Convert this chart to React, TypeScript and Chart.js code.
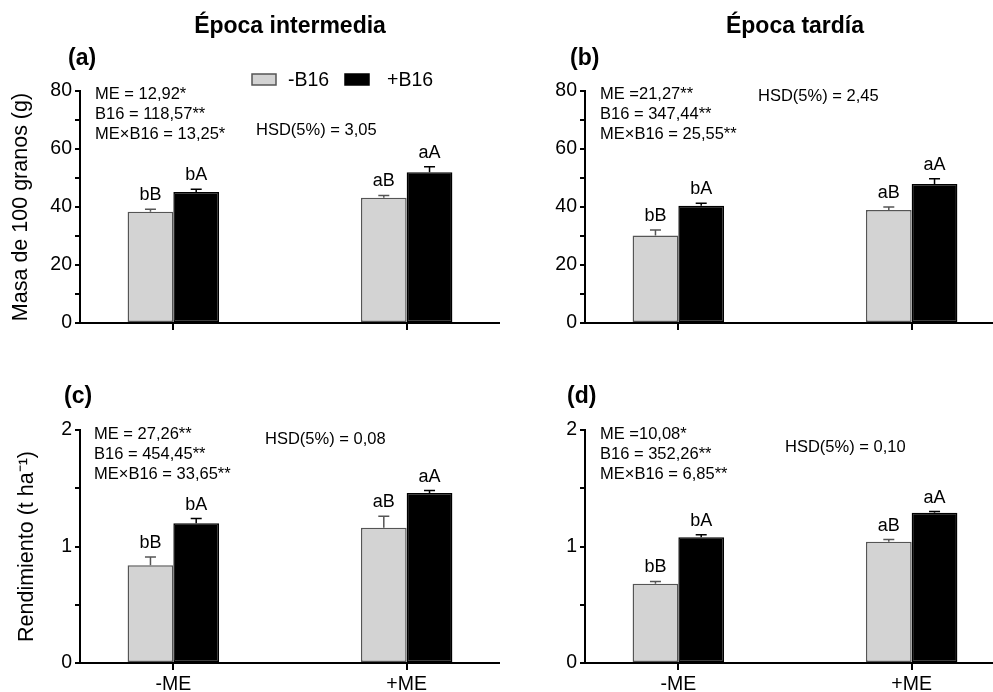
import { useEffect, useRef } from "react";
import { Chart, registerables } from "chart.js";

Chart.register(...registerables);

const FONT = "'Liberation Sans', Arial, Helvetica, sans-serif";

// ---------- data ----------
const categories = ["-ME", "+ME"];
const seriesNames = ["-B16", "+B16"];
const seriesColors = ["#d3d3d3", "#000000"];
const seriesBorders = ["#555555", "#000000"];

// (a) Masa de 100 granos (g) – Época intermedia
const massIntMinusB16 = [38.4, 43.2];
const massIntMinusB16Err = [0.8, 0.8];
const massIntPlusB16 = [45.2, 52.0];
const massIntPlusB16Err = [0.9, 1.9];

// (b) Masa de 100 granos (g) – Época tardía
const massLateMinusB16 = [30.2, 39.0];
const massLateMinusB16Err = [1.9, 1.0];
const massLatePlusB16 = [40.4, 47.9];
const massLatePlusB16Err = [0.9, 1.8];

// (c) Rendimiento (t ha-1) – Época intermedia
const yieldIntMinusB16 = [0.84, 1.16];
const yieldIntMinusB16Err = [0.07, 0.1];
const yieldIntPlusB16 = [1.2, 1.46];
const yieldIntPlusB16Err = [0.04, 0.02];

// (d) Rendimiento (t ha-1) – Época tardía
const yieldLateMinusB16 = [0.68, 1.04];
const yieldLateMinusB16Err = [0.02, 0.02];
const yieldLatePlusB16 = [1.08, 1.29];
const yieldLatePlusB16Err = [0.02, 0.01];

const lettersMinusB16 = ["bB", "aB"];
const lettersPlusB16 = ["bA", "aA"];

const massTickLabels = [0, 20, 40, 60, 80];
const yieldTickLabels = [0, 1, 2];

const statsA = ["ME = 12,92*", "B16 = 118,57**", "ME×B16 = 13,25*"];
const statsB = ["ME =21,27**", "B16 = 347,44**", "ME×B16 = 25,55**"];
const statsC = ["ME = 27,26**", "B16 = 454,45**", "ME×B16 = 33,65**"];
const statsD = ["ME =10,08*", "B16 = 352,26**", "ME×B16 = 6,85**"];
const hsdA = "HSD(5%) = 3,05";
const hsdB = "HSD(5%) = 2,45";
const hsdC = "HSD(5%) = 0,08";
const hsdD = "HSD(5%) = 0,10";

// ---------- plugins ----------
const errorBarsPlugin = {
  id: "errorBars",
  afterDatasetsDraw(chart: any) {
    const { ctx } = chart;
    const yScale = chart.scales.y;
    chart.data.datasets.forEach((ds: any, di: number) => {
      const meta = chart.getDatasetMeta(di);
      meta.data.forEach((el: any, i: number) => {
        const v = ds.data[i].y;
        const e = ds.errors[i];
        const yTop = yScale.getPixelForValue(v + e);
        ctx.save();
        ctx.strokeStyle = ds.errorColor;
        ctx.lineWidth = 1.5;
        ctx.beginPath();
        ctx.moveTo(el.x, el.y);
        ctx.lineTo(el.x, yTop);
        ctx.moveTo(el.x - 5.5, yTop);
        ctx.lineTo(el.x + 5.5, yTop);
        ctx.stroke();
        ctx.fillStyle = "#000";
        ctx.font = `18px ${FONT}`;
        ctx.textAlign = "center";
        ctx.textBaseline = "alphabetic";
        ctx.fillText(ds.letters[i], el.x, yTop - 9);
        ctx.restore();
      });
    });
  },
};

const annotationsPlugin = {
  id: "annotations",
  afterDraw(chart: any, _args: any, opts: any) {
    const { ctx } = chart;
    ctx.save();
    (opts.items || []).forEach((it: any) => {
      ctx.font = `${it.bold ? "bold " : ""}${it.size}px ${FONT}`;
      ctx.fillStyle = "#000";
      ctx.textAlign = it.align || "left";
      ctx.textBaseline = "alphabetic";
      ctx.fillText(it.t, it.x, it.y);
    });
    if (opts.legend) {
      const L = opts.legend;
      seriesNames.forEach((name, i) => {
        const bx = L.boxes[i];
        ctx.fillStyle = seriesColors[i];
        ctx.fillRect(bx, L.y, L.w, L.h);
        ctx.strokeStyle = seriesBorders[i];
        ctx.lineWidth = 1.5;
        ctx.strokeRect(bx, L.y, L.w, L.h);
        ctx.fillStyle = "#000";
        ctx.font = `${L.size}px ${FONT}`;
        ctx.textAlign = "left";
        ctx.fillText(name, L.texts[i], L.baseline);
      });
    }
    ctx.restore();
  },
};

// ---------- chart builder ----------
function buildConfig(p: any) {
  const mk = (vals: number[], errs: number[], letters: string[], si: number) => ({
    label: seriesNames[si],
    data: vals.map((y, i) => ({ x: i, y })),
    errors: errs,
    letters,
    errorColor: seriesBorders[si],
    backgroundColor: seriesColors[si],
    borderColor: seriesBorders[si],
    borderWidth: 1.5,
    borderSkipped: false,
    categoryPercentage: 0.392,
    barPercentage: 1,
  });
  return {
    type: "bar",
    data: {
      datasets: [
        mk(p.minus, p.minusErr, lettersMinusB16, 0),
        mk(p.plus, p.plusErr, lettersPlusB16, 1),
      ],
    },
    plugins: [errorBarsPlugin, annotationsPlugin],
    options: {
      responsive: false,
      animation: false,
      events: [],
      layout: { padding: { left: 0, right: 0, top: p.padTop, bottom: 0 } },
      plugins: {
        legend: { display: false },
        tooltip: { enabled: false },
        annotations: { items: p.items, legend: p.legend },
      },
      scales: {
        x: {
          type: "linear",
          min: -0.4,
          max: 1.4,
          bounds: "data",
          offset: false,
          afterBuildTicks: (s: any) => {
            s.ticks = categories.map((_, i) => ({ value: i }));
          },
          afterFit: (s: any) => {
            s.height = p.xAxisHeight;
          },
          grid: {
            display: true,
            drawOnChartArea: false,
            drawTicks: true,
            tickLength: 7,
            lineWidth: 2,
            color: "#000",
            offset: false,
          },
          border: { display: true, color: "#000", width: 2 },
          ticks: {
            display: p.showX,
            callback: (v: number) => categories[v] ?? "",
            font: { size: 19.5, family: FONT },
            color: "#000",
            padding: 3,
            maxRotation: 0,
            autoSkip: false,
          },
        },
        y: {
          min: 0,
          max: p.yMax,
          afterFit: (s: any) => {
            s.width = p.yAxisWidth;
          },
          ticks: {
            stepSize: p.step,
            autoSkip: false,
            callback: (v: number) => (p.tickLabels.includes(v) ? String(v) : ""),
            font: { size: 19.5, family: FONT },
            color: "#000",
            padding: 3,
          },
          grid: {
            drawOnChartArea: false,
            drawTicks: true,
            tickLength: 5,
            lineWidth: 2,
            color: "#000",
          },
          border: { display: true, color: "#000", width: 2 },
          title: {
            display: !!p.yTitle,
            text: p.yTitle || "",
            font: { size: 21.5, family: FONT },
            color: "#000",
            padding: { top: p.titlePad || 0, bottom: 0 },
          },
        },
      },
    },
  };
}

function Panel({ p }: { p: any }) {
  const ref = useRef<HTMLCanvasElement | null>(null);
  useEffect(() => {
    if (!ref.current) return;
    const chart = new Chart(ref.current, buildConfig(p) as any);
    return () => chart.destroy();
  }, []);
  return (
    <canvas
      ref={ref}
      width={p.w}
      height={p.h}
      style={{ position: "absolute", left: p.left, top: p.top, width: p.w, height: p.h }}
    />
  );
}

const stat = (lines: string[], x: number, ys: number[]) =>
  lines.map((t, i) => ({ t, x, y: ys[i], size: 16.5 }));

const panels = [
  {
    left: 0, top: 0, w: 500, h: 345, padTop: 91, xAxisHeight: 22, yAxisWidth: 80,
    showX: false, yMax: 80, step: 10, tickLabels: massTickLabels,
    yTitle: "Masa de 100 granos (g)", titlePad: 8,
    minus: massIntMinusB16, minusErr: massIntMinusB16Err,
    plus: massIntPlusB16, plusErr: massIntPlusB16Err,
    items: [
      { t: "Época intermedia", x: 290, y: 33, size: 23, bold: true, align: "center" },
      { t: "(a)", x: 68, y: 65, size: 23, bold: true },
      ...stat(statsA, 95, [99, 119, 139]),
      { t: hsdA, x: 256, y: 135, size: 16.5 },
    ],
    legend: { boxes: [252, 345], texts: [288, 387], y: 74, w: 24, h: 11, baseline: 86, size: 19.5 },
  },
  {
    left: 500, top: 0, w: 505, h: 345, padTop: 91, xAxisHeight: 22, yAxisWidth: 85,
    showX: false, yMax: 80, step: 10, tickLabels: massTickLabels,
    minus: massLateMinusB16, minusErr: massLateMinusB16Err,
    plus: massLatePlusB16, plusErr: massLatePlusB16Err,
    items: [
      { t: "Época tardía", x: 295, y: 33, size: 23, bold: true, align: "center" },
      { t: "(b)", x: 70, y: 65, size: 23, bold: true },
      ...stat(statsB, 100, [99, 119, 139]),
      { t: hsdB, x: 258, y: 101, size: 16.5 },
    ],
  },
  {
    left: 0, top: 340, w: 500, h: 352, padTop: 90, xAxisHeight: 29, yAxisWidth: 80,
    showX: true, yMax: 2, step: 0.5, tickLabels: yieldTickLabels,
    yTitle: "Rendimiento (t ha⁻¹)", titlePad: 14,
    minus: yieldIntMinusB16, minusErr: yieldIntMinusB16Err,
    plus: yieldIntPlusB16, plusErr: yieldIntPlusB16Err,
    items: [
      { t: "(c)", x: 64, y: 63, size: 23, bold: true },
      ...stat(statsC, 94, [99, 119, 139]),
      { t: hsdC, x: 265, y: 104, size: 16.5 },
    ],
  },
  {
    left: 500, top: 340, w: 505, h: 352, padTop: 90, xAxisHeight: 29, yAxisWidth: 85,
    showX: true, yMax: 2, step: 0.5, tickLabels: yieldTickLabels,
    minus: yieldLateMinusB16, minusErr: yieldLateMinusB16Err,
    plus: yieldLatePlusB16, plusErr: yieldLatePlusB16Err,
    items: [
      { t: "(d)", x: 67, y: 63, size: 23, bold: true },
      ...stat(statsD, 100, [99, 118.5, 138.5]),
      { t: hsdD, x: 285, y: 112, size: 16.5 },
    ],
  },
];

export default function App() {
  return (
    <div
      style={{
        position: "absolute",
        left: 0,
        top: 0,
        width: 993,
        height: 692,
        overflow: "hidden",
        background: "#fff",
      }}
    >
      {panels.map((p, i) => (
        <Panel key={i} p={p} />
      ))}
    </div>
  );
}
